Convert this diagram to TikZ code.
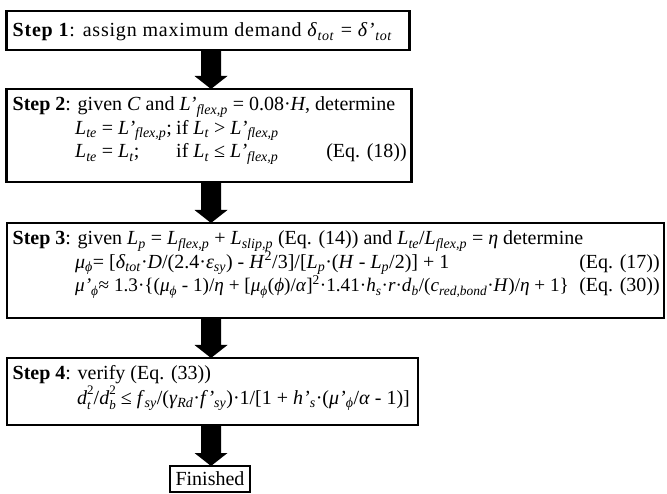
\documentclass[tikz,border=0pt]{standalone}
\usepackage{fontspec}
\setmainfont{Liberation Serif}
\newfontfamily\spacedfont[LetterSpace=4]{Liberation Serif}
\usetikzlibrary{calc}
\newcommand{\I}[1]{\textit{#1}}
\newcommand{\sbs}[1]{\textsubscript{\textit{#1}}}
\newcommand{\supsub}[2]{\rlap{\raisebox{-0.27em}{\fontsize{13}{13}\selectfont\textit{#2}}}\raisebox{0.48em}{\fontsize{13}{13}\selectfont #1}}
\newcommand{\blockarrow}[2]{%
  \path (#1.south -| ax) coordinate (s) (#2.north -| ax) coordinate (e);
  \fill ($(s)+(-10,0)$) -- ($(e)+(-10,-13)$) -- ($(e)+(-16.5,-13)$) -- (e)
     -- ($(e)+(16.5,-13)$) -- ($(e)+(10,-13)$) -- ($(s)+(10,0)$) -- cycle;}
\begin{document}
\begin{tikzpicture}[x=1pt,y=-1pt,
  box/.style={draw, line width=2.6pt, inner sep=0pt, outer sep=0pt},
  txt/.style={anchor=base west, inner sep=0pt, font=\fontsize{20}{24}\selectfont},
  eqn/.style={anchor=base east, inner sep=0pt, font=\fontsize{20}{24}\selectfont}]
\useasboundingbox (0,0) rectangle (667,494);
\coordinate (ax) at (211,0);
% boxes
\node[box, minimum width=403pt, minimum height=39pt] (b1) at (208,30.5) {};
\node[box, minimum width=405pt, minimum height=93pt] (b2) at (209,135.5) {};
\node[box, minimum width=657pt, minimum height=95pt] (b3) at (335.5,270.5) {};
\node[box, minimum width=411pt, minimum height=67pt] (b4) at (212.5,391.5) {};
\node[box, line width=2pt, minimum width=80pt, minimum height=26pt,
      font=\fontsize{20}{24}\selectfont] (fin) at (210,479) {Finished};
% step 1
\node[txt, font=\spacedfont\fontsize{20}{24}\selectfont] (t1) at (12.5,37) {\textbf{Step 1}: assign maximum demand \I{δ}\sbs{tot} = \I{δ’}\sbs{tot}};
% step 2
\node[txt] (t2a) at (12.5,111) {\textbf{Step 2}: given \I{C} and \I{L’}\sbs{flex,p} = 0.08·\I{H}, determine};
\node[txt] (t2b) at (75,134.5) {\I{L}\sbs{te} = \I{L’}\sbs{flex,p};};
\node[txt] (t2c) at (176,134.5) {if \I{L}\sbs{t} > \I{L’}\sbs{flex,p}};
\node[txt] (t2d) at (75,158) {\I{L}\sbs{te} = \I{L}\sbs{t};};
\node[txt] (t2e) at (176,158) {if \I{L}\sbs{t} ≤ \I{L’}\sbs{flex,p}};
\node[eqn] (e18) at (407,158) {(Eq. (18))};
% step 3
\node[txt] (t3a) at (12.5,245) {\textbf{Step 3}: given \I{L}\sbs{p} = \I{L}\sbs{flex,p} + \I{L}\sbs{slip,p} (Eq. (14)) and \I{L}\sbs{te}/\I{L}\sbs{flex,p} = \I{η} determine};
\node[txt] (t3b) at (75,268.5) {\I{μ}\sbs{ϕ}= [\I{δ}\sbs{tot}·\I{D}/(2.4·\I{ε}\sbs{sy}) - \I{H}\textsuperscript{2}/3]/[\I{L}\sbs{p}·(\I{H} - \I{L}\sbs{p}/2)] + 1};
\node[eqn] (e17) at (660,268.5) {(Eq. (17))};
\node[txt, font=\fontsize{19.2}{24}\selectfont] (t3c) at (75,292) {\I{μ’}\sbs{ϕ}≈ 1.3·\{(\I{μ}\sbs{ϕ} - 1)/\I{η} + [\I{μ}\sbs{ϕ}(\I{ϕ})/\I{α}]\textsuperscript{2}·1.41·\I{h}\sbs{s}·\I{r}·\I{d}\sbs{b}/(\I{c}\sbs{red,bond}·\I{H})/\I{η} + 1\}};
\node[eqn] (e30) at (660,292) {(Eq. (30))};
% step 4
\node[txt] (t4a) at (12.5,380) {\textbf{Step 4}: verify (Eq. (33))};
\node[txt] (t4b) at (77,404) {\I{d}\supsub{2}{t}/\I{d}\supsub{2}{b} ≤ \I{f}\sbs{sy}/(\I{γ}\sbs{Rd}·\I{f’}\sbs{sy})·1/[1 + \I{h’}\sbs{s}·(\I{μ’}\sbs{ϕ}/\I{α} - 1)]};
% arrows
\blockarrow{b1}{b2}
\blockarrow{b2}{b3}
\blockarrow{b3}{b4}
\blockarrow{b4}{fin}
\end{tikzpicture}
\end{document}
